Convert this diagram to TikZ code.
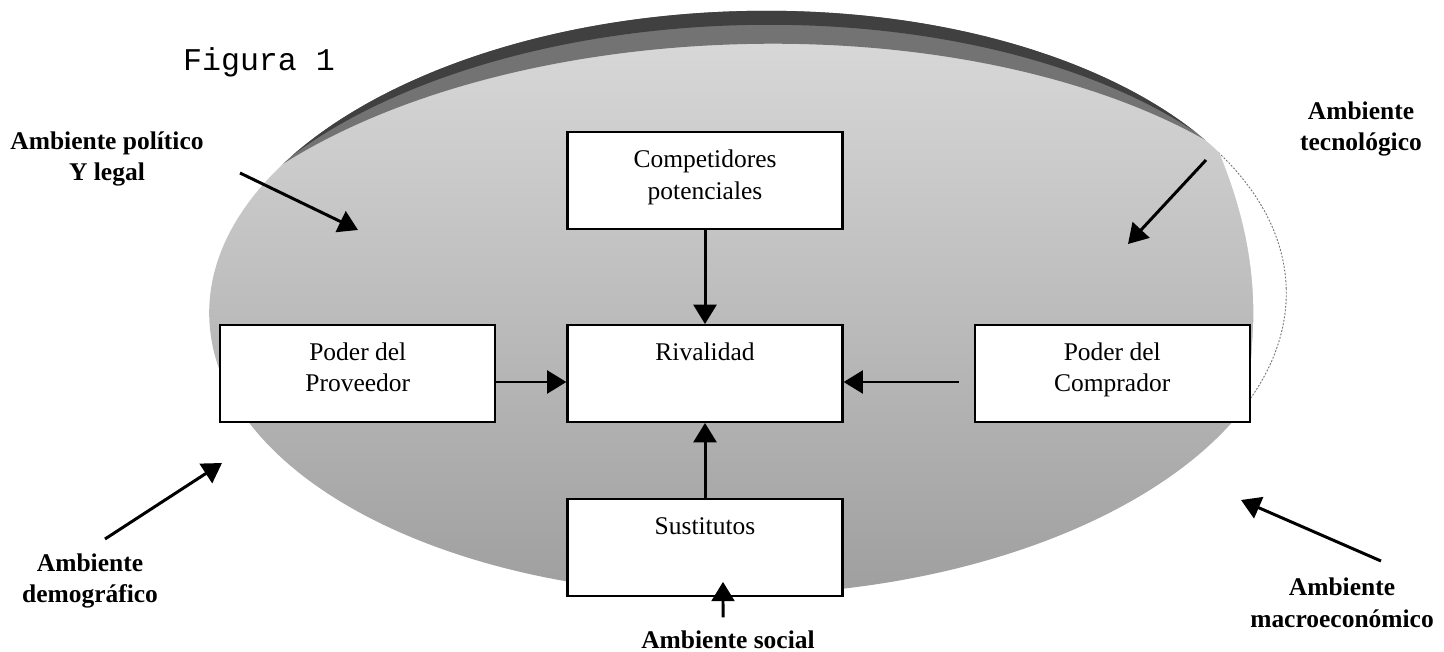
\documentclass[tikz,border=0pt]{standalone}
\usepackage{fontspec}
\setmainfont{Liberation Serif}
\setmonofont{Liberation Mono}
\usepackage{tikz}
\usetikzlibrary{arrows.meta,calc}
\usetikzlibrary{positioning,shapes}

\begin{document}
\begin{tikzpicture}[x=0.02cm, y=-0.02cm,
    box/.style={draw, line width=1.3pt, fill=white, minimum width=5.5cm, inner ysep=0pt,
        text height=20pt, text depth=35pt, align=center, font=\fontsize{14.5}{18}\selectfont},
    box2/.style={box, text height=38pt, text depth=17pt},
    env/.style={align=center, font=\fontsize{14.5}{18}\selectfont\bfseries},
    arr/.style={-{Triangle[length=11pt, width=13pt]}, line width=1.7pt}]

    \useasboundingbox (0,0) rectangle (1444,652);

    % Ellipse (entorno)
    \coordinate (c) at (748,303);
    \begin{scope}[rotate around={1.5:(c)}]
        \shade[top color=black!14, bottom color=black!38] (c) ellipse [x radius=10.78cm, y radius=5.84cm];
        \clip (c) ellipse [x radius=10.78cm, y radius=5.84cm];
        \fill[black!55, even odd rule] (0,-50) rectangle (1500,700)
            ($(c)+(0,40)$) ellipse [x radius=12cm, y radius=5.98cm];
        \fill[black!75, even odd rule] (0,-50) rectangle (1500,700)
            ($(c)+(0,12)$) ellipse [x radius=11.2cm, y radius=5.8cm];
    \end{scope}
    \begin{scope}
        \clip[rotate around={1.5:(c)}] (c) ellipse [x radius=10.78cm, y radius=5.84cm];
        \fill[white] (1214,140) .. controls (1240,200) and (1256,260) .. (1253,330)
            -- (1247,425) -- (1330,425) -- (1330,140) -- cycle;
        \clip (1214,140) .. controls (1240,200) and (1256,260) .. (1253,330)
            -- (1247,425) -- (1330,425) -- (1330,140) -- cycle;
        \draw[black!55, densely dotted, line width=1pt, rotate around={1.5:(c)}]
            (c) ellipse [x radius=10.78cm, y radius=5.84cm];
    \end{scope}

    % Nodes
    \node[font=\fontsize{18}{20}\selectfont\ttfamily] (fig) at (259,62) {Figura 1};
    \node[box] (riv) at (705,373.5) {Rivalidad};
    \node[box2, above=1.88cm of riv] (comp) {Competidores\\potenciales};
    \node[box2, left=1.4cm of riv] (prov) {Poder del\\Proveedor};
    \node[box2, right=2.6cm of riv] (compr) {Poder del\\Comprador};
    \node[box, below=1.5cm of riv] (sust) {Sustitutos};

    \node[env] (pol) at (107,159) {Ambiente político\\Y legal};
    \node[env] (tec) at (1361,129) {Ambiente\\tecnológico};
    \node[env] (dem) at (90,581) {Ambiente\\demográfico};
    \node[env] (mac) at (1342,603) {Ambiente\\macroeconómico};
    \node[env] (soc) at (728,640) {Ambiente social};

    % Arrows between the forces
    \draw[arr] (comp) -- (riv);
    \draw[arr] ([yshift=-0.17cm]prov.east) -- ([yshift=-0.17cm]riv.west);
    \draw[arr, shorten <=0.3cm] ([yshift=-0.17cm]compr.west) -- ([yshift=-0.17cm]riv.east);
    \draw[arr] (sust) -- (riv);
    \draw[arr] ([xshift=-0.1cm, yshift=0.15cm]soc.north) -- ([xshift=0.36cm, yshift=0.3cm]sust.south);

    % Arrows from the environment
    \coordinate (pol-a) at (240,173);  \coordinate (pol-b) at (358,230);
    \coordinate (tec-a) at (1206,160); \coordinate (tec-b) at (1128,244);
    \coordinate (dem-a) at (105,539);  \coordinate (dem-b) at (222,463);
    \coordinate (mac-a) at (1381,561); \coordinate (mac-b) at (1241,500);
    \draw[arr] (pol-a) -- (pol-b);
    \draw[arr] (tec-a) -- (tec-b);
    \draw[arr] (dem-a) -- (dem-b);
    \draw[arr] (mac-a) -- (mac-b);
\end{tikzpicture}
\end{document}
